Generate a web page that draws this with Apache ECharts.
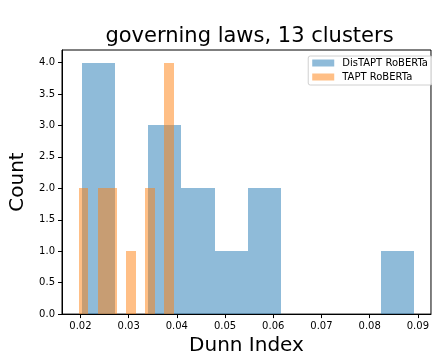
<!DOCTYPE html>
<html>
<head>
<meta charset="utf-8">
<script src="https://cdn.jsdelivr.net/npm/echarts@6/dist/echarts.min.js"></script>
<style>
  html, body { margin: 0; padding: 0; background: #fff; }
  #chart { width: 432px; height: 361px; }
</style>
</head>
<body>
<div id="chart"></div>
<script>
// Histogram bin edges and counts for the two models
const disEdges = [0.02027, 0.02717, 0.03406, 0.04096, 0.04786, 0.05476, 0.06165, 0.06855, 0.07545, 0.08234, 0.08924];
const disCounts = [4, 0, 3, 2, 1, 2, 0, 0, 0, 1];
const taptEdges = [0.01965, 0.02163, 0.02360, 0.02557, 0.02755, 0.02952, 0.03150, 0.03347, 0.03544, 0.03742, 0.03939];
const taptCounts = [2, 0, 2, 2, 0, 1, 0, 2, 0, 4];

const xTicks = [0.02, 0.03, 0.04, 0.05, 0.06, 0.07, 0.08, 0.09];
const yTicks = [0, 0.5, 1.0, 1.5, 2.0, 2.5, 3.0, 3.5, 4.0];

const seriesNames = ['DisTAPT RoBERTa', 'TAPT RoBERTa'];
const titleText = 'governing laws, 13 clusters';

const FONT = 'DejaVu Sans';
const BLUE = 'rgba(31,119,180,0.5)';
const ORANGE = 'rgba(255,127,14,0.5)';

function bins(edges, counts) {
  const out = [];
  for (let i = 0; i < counts.length; i++) {
    if (counts[i] > 0) out.push([edges[i], edges[i + 1], counts[i]]);
  }
  return out;
}

// Bars are snapped to whole pixels so neighbouring bins meet without seams
function histRender(color) {
  return function (params, api) {
    const top = api.coord([api.value(0), api.value(2)]);
    const bottom = api.coord([api.value(1), 0]);
    const x0 = Math.round(top[0]), x1 = Math.round(bottom[0]);
    const y0 = Math.round(top[1]), y1 = Math.round(bottom[1]);
    return {
      type: 'rect',
      shape: { x: x0, y: y0, width: x1 - x0, height: y1 - y0 },
      style: { fill: color }
    };
  };
}

const chart = echarts.init(document.getElementById('chart'), null, { renderer: 'canvas' });

chart.setOption({
  animation: false,
  backgroundColor: '#fff',
  textStyle: { fontFamily: FONT },
  graphic: [{
    type: 'text',
    x: 249.5,
    y: 37,
    style: { text: titleText, font: '21px "DejaVu Sans"', fill: '#000', align: 'center', verticalAlign: 'middle' }
  }],
  grid: {
    left: 62, top: 50, width: 375, height: 265,
    show: true, borderColor: '#000', borderWidth: 1, backgroundColor: 'transparent'
  },
  legend: {
    data: seriesNames,
    orient: 'vertical',
    right: 0,
    top: 56,
    icon: 'rect',
    itemWidth: 22,
    itemHeight: 7,
    itemGap: 4,
    padding: [2, 4, 3, 4],
    borderColor: '#d0d0d0',
    borderWidth: 1,
    borderRadius: 2,
    backgroundColor: 'rgba(255,255,255,0.8)',
    textStyle: { fontFamily: FONT, fontSize: 10, color: '#000', padding: [0, 0, 0, 3] }
  },
  xAxis: {
    type: 'value',
    min: 0.016174,
    max: 0.09272,
    name: 'Dunn Index',
    nameLocation: 'middle',
    nameGap: 19,
    nameTextStyle: { fontFamily: FONT, fontSize: 20, color: '#000' },
    axisLine: { show: true, lineStyle: { color: '#000', width: 1 } },
    axisTick: { show: true, length: 4, customValues: xTicks, lineStyle: { color: '#000' } },
    axisLabel: {
      customValues: xTicks, margin: 7, fontFamily: FONT, fontSize: 10, color: '#000',
      formatter: v => v.toFixed(2)
    },
    splitLine: { show: false }
  },
  yAxis: {
    type: 'value',
    min: 0,
    max: 4.2,
    name: 'Count',
    nameLocation: 'middle',
    nameGap: 30,
    nameTextStyle: { fontFamily: FONT, fontSize: 20, color: '#000' },
    axisLine: { show: true, lineStyle: { color: '#000', width: 1 } },
    axisTick: { show: true, length: 4, customValues: yTicks, lineStyle: { color: '#000' } },
    axisLabel: {
      customValues: yTicks, margin: 7, fontFamily: FONT, fontSize: 10, color: '#000',
      formatter: v => v.toFixed(1)
    },
    splitLine: { show: false }
  },
  series: [
    {
      name: seriesNames[0],
      type: 'custom',
      itemStyle: { color: BLUE },
      renderItem: histRender(BLUE),
      encode: { x: [0, 1], y: 2 },
      data: bins(disEdges, disCounts)
    },
    {
      name: seriesNames[1],
      type: 'custom',
      itemStyle: { color: ORANGE },
      renderItem: histRender(ORANGE),
      encode: { x: [0, 1], y: 2 },
      data: bins(taptEdges, taptCounts)
    }
  ]
});
</script>
</body>
</html>
